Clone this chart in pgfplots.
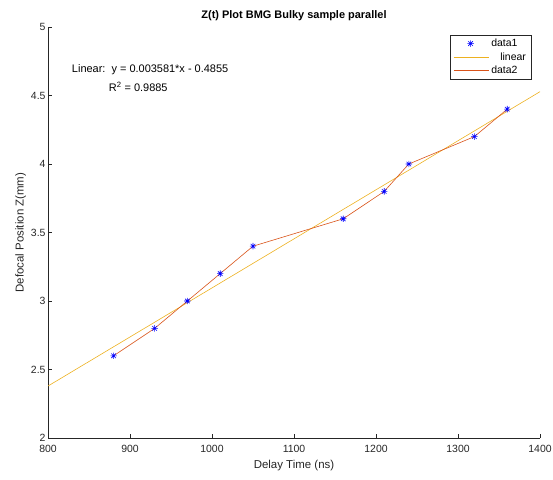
\documentclass[border=0pt]{standalone}
\usepackage{pgfplots}
\pgfplotsset{compat=1.18}
\usepackage{fontspec}
\setmainfont{Liberation Sans}
\definecolor{axgray}{rgb}{0.15,0.15,0.15}
\definecolor{mlblue}{rgb}{0,0,1}
\definecolor{mlyellow}{rgb}{0.929,0.694,0.125}
\definecolor{mlred}{rgb}{0.85,0.325,0.098}
\pgfdeclareplotmark{mlstar}{%
  \pgfpathmoveto{\pgfqpoint{0pt}{\pgfplotmarksize}}\pgfpathlineto{\pgfqpoint{0pt}{-\pgfplotmarksize}}%
  \pgfpathmoveto{\pgfqpoint{\pgfplotmarksize}{0pt}}\pgfpathlineto{\pgfqpoint{-\pgfplotmarksize}{0pt}}%
  \pgfpathmoveto{\pgfqpoint{0.707\pgfplotmarksize}{0.707\pgfplotmarksize}}\pgfpathlineto{\pgfqpoint{-0.707\pgfplotmarksize}{-0.707\pgfplotmarksize}}%
  \pgfpathmoveto{\pgfqpoint{-0.707\pgfplotmarksize}{0.707\pgfplotmarksize}}\pgfpathlineto{\pgfqpoint{0.707\pgfplotmarksize}{-0.707\pgfplotmarksize}}%
  \pgfusepathqstroke}
\begin{document}
\begin{tikzpicture}
\path[use as bounding box] (0,0) rectangle (553bp,480bp);
\begin{axis}[
  at={(48bp,42bp)}, anchor=south west,
  scale only axis, width=492bp, height=411bp,
  xmin=800, xmax=1400, ymin=2, ymax=5,
  axis lines*=left,
  axis line style={axgray, line width=0.5pt, -},
  xtick={800,900,...,1400}, ytick={2,2.5,...,5},
  tick align=inside, major tick length=4bp,
  tick style={axgray, line width=0.5pt},
  ticklabel style={font=\fontsize{10.5}{12}\selectfont, text=axgray},
  /pgf/number format/assume math mode=true,
  yticklabel style={/pgf/number format/fixed, xshift=1bp},
  xticklabel style={/pgf/number format/1000 sep={}, yshift=-4bp},
  title={\textbf{Z(t) Plot BMG Bulky sample parallel}},
  title style={font=\fontsize{11}{13}\selectfont, yshift=-3bp},
  xlabel={Delay Time (ns)}, ylabel={Defocal Position Z(mm)},
  label style={font=\fontsize{11.5}{13}\selectfont, text=axgray},
  xlabel style={yshift=0bp},
  ylabel style={yshift=-2bp},
  legend style={at={(0.982,0.981)}, anchor=north east, draw=axgray, line width=0.5pt,
    font=\fontsize{10.5}{12}\selectfont, inner xsep=3pt, inner ysep=2pt, row sep=0.5pt},
  legend cell align=left,
]
\addplot[only marks, mark=mlstar, mark size=3.2bp, color=mlblue, draw=mlblue, line width=0.6pt,
  legend image code/.code={\draw[mlblue, line width=0.6pt] plot[mark=mlstar, mark size=3.2bp] coordinates {(0.6cm,0cm)};}]
  coordinates {(880,2.6)(930,2.8)(970,3.0)(1010,3.2)(1050,3.4)(1160,3.6)(1210,3.8)(1240,4.0)(1320,4.2)(1360,4.4)};
\addlegendentry{data1}
\addplot[draw=mlyellow, line width=0.6pt, no marks,
  legend image code/.code={\draw[mlyellow, line width=0.7pt] (0cm,0cm) -- (1.25cm,0cm);}]
  coordinates {(800,2.3793)(1400,4.5279)};
\addlegendentry{\hspace*{9bp}linear}
\addplot[draw=mlred, line width=0.6pt, no marks,
  legend image code/.code={\draw[mlred, line width=0.7pt] (0cm,0cm) -- (1.25cm,0cm);}]
  coordinates {(880,2.6)(930,2.8)(970,3.0)(1010,3.2)(1050,3.4)(1160,3.6)(1210,3.8)(1240,4.0)(1320,4.2)(1360,4.4)};
\addlegendentry{data2}
\node[anchor=west, font=\fontsize{11}{13}\selectfont, inner sep=0pt] at (axis cs:829,4.69) {Linear:\ \ y = 0.003581*x - 0.4855};
\node[anchor=west, font=\fontsize{11}{13}\selectfont, inner sep=0pt] at (axis cs:874,4.565) {R\textsuperscript{2} = 0.9885};
\end{axis}
\end{tikzpicture}
\end{document}
